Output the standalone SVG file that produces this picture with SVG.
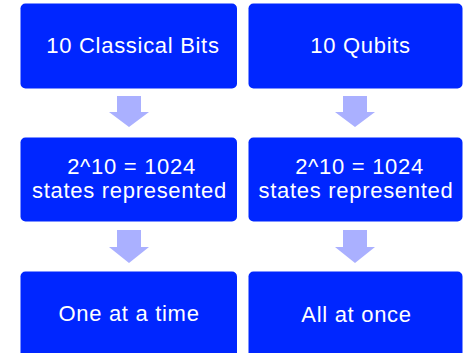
<svg xmlns="http://www.w3.org/2000/svg" width="463" height="353" viewBox="0 0 463 353">
<style>
.box{fill:#0026FF;}
.t{fill:#ffffff;font-family:"Liberation Sans",Arial,sans-serif;font-size:22px;letter-spacing:0.7px;text-anchor:middle;}
.arr{fill:#AAB0FF;}
</style>
<rect width="463" height="353" fill="#ffffff"/>
<g id="connectors">
<polygon class="arr" points="117,96 141,96 141,112 149,112 129,127 109,112 117,112"/>
<polygon class="arr" points="343,96 367,96 367,112 375,112 355,127 335,112 343,112"/>
<polygon class="arr" points="117,230 141,230 141,247 149,247 129,263 109,247 117,247"/>
<polygon class="arr" points="343,230 367,230 367,247 375,247 355,263 335,247 343,247"/>
</g>
<g id="classical-bits">
<rect class="box" x="20.5" y="3.5" width="216.5" height="85" rx="5"/>
<text class="t" x="133" y="53">10 Classical Bits</text>
</g>
<g id="qubits">
<rect class="box" x="248.5" y="3.5" width="214" height="85" rx="5"/>
<text class="t" x="360.5" y="53">10 Qubits</text>
</g>
<g id="classical-states">
<rect class="box" x="20.5" y="137.5" width="216.5" height="84" rx="5"/>
<text class="t" x="131.5" y="174">2^10 = 1024</text>
<text class="t" x="129.5" y="197.5">states represented</text>
</g>
<g id="qubit-states">
<rect class="box" x="248.5" y="137.5" width="214" height="84" rx="5"/>
<text class="t" x="359.5" y="174">2^10 = 1024</text>
<text class="t" x="356" y="197.5">states represented</text>
</g>
<g id="one-at-a-time">
<rect class="box" x="20.5" y="271.5" width="216.5" height="90" rx="5"/>
<text class="t" x="129" y="321">One at a time</text>
</g>
<g id="all-at-once">
<rect class="box" x="248.5" y="271.5" width="214" height="90" rx="5"/>
<text class="t" x="356.5" y="321.5">All at once</text>
</g>
</svg>
